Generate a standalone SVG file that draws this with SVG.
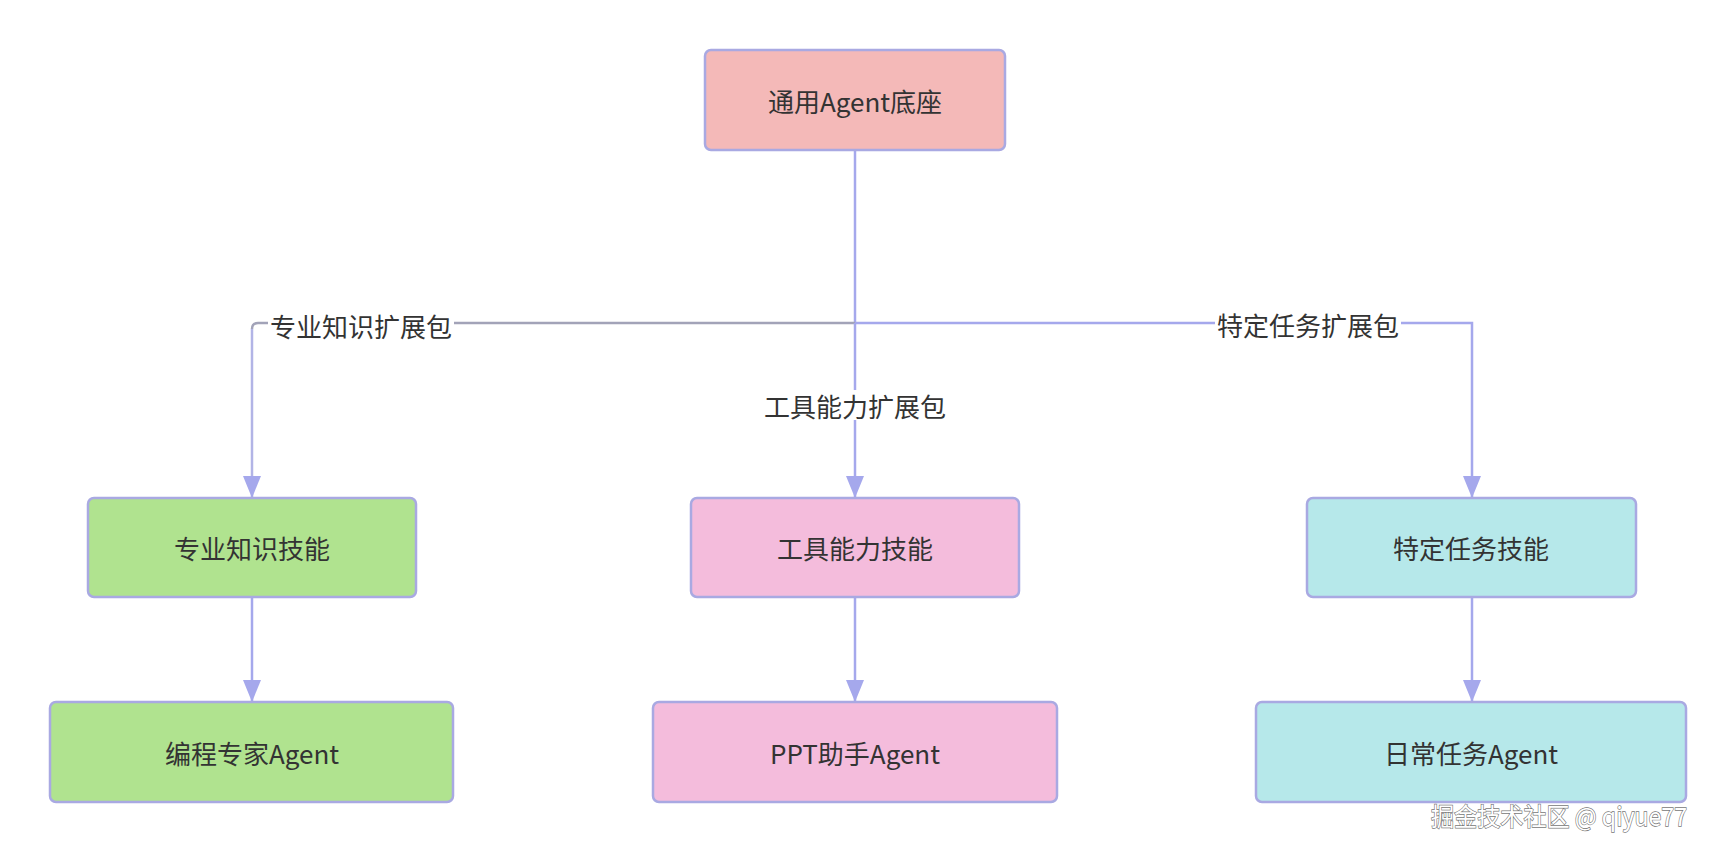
<svg xmlns="http://www.w3.org/2000/svg" width="1736" height="852" viewBox="0 0 1736 852">
<style>
.box{stroke:#a9a9e2;stroke-width:2.5}
.t{font-family:"Noto Sans CJK SC","Noto Sans",sans-serif;font-size:26px;fill:#333;text-anchor:middle;dominant-baseline:central}
.edge{fill:none;stroke:#a5a8ec;stroke-width:2.5}
.lbl{fill:#fff}
</style>
<defs>
<marker id="arr" viewBox="0 0 22 20" refX="22" refY="10" markerWidth="22" markerHeight="20" markerUnits="userSpaceOnUse" orient="auto">
<path d="M0,1 L22,10 L0,19 Z" fill="#a5a8ec"/>
</marker>
</defs>
<rect width="1736" height="852" fill="#fff"/>
<g id="connectors">
<path class="edge" d="M855,150 V323" />
<path class="edge" d="M855,323 H258 Q252,323 252,329" style="stroke:#a2a3b8"/>
<path class="edge" d="M252,329 V498" style="stroke:#b2b4e6" marker-end="url(#arr)"/>
<path class="edge" d="M855,323 V498" marker-end="url(#arr)"/>
<path class="edge" d="M855,323 H1472 V498" marker-end="url(#arr)"/>
<path class="edge" d="M252,597 V702" marker-end="url(#arr)"/>
<path class="edge" d="M855,597 V702" marker-end="url(#arr)"/>
<path class="edge" d="M1472,597 V702" marker-end="url(#arr)"/>
<g id="edge-labels">
<rect class="lbl" x="268" y="310" width="186" height="30"/>
<text class="t" x="361" y="325">专业知识扩展包</text>
<rect class="lbl" x="762" y="390" width="186" height="30"/>
<text class="t" x="855" y="405">工具能力扩展包</text>
<rect class="lbl" x="1215" y="309" width="186" height="30"/>
<text class="t" x="1308" y="324">特定任务扩展包</text>
</g>
</g>
<g id="base">
<rect class="box" x="705" y="50" width="300" height="100" rx="6" fill="#f4b9b8"/>
<text class="t" x="855" y="100">通用Agent底座</text>
</g>
<g id="skill-knowledge">
<rect class="box" x="88" y="498" width="328" height="99" rx="6" fill="#b0e38f"/>
<text class="t" x="252" y="547">专业知识技能</text>
</g>
<g id="skill-tools">
<rect class="box" x="691" y="498" width="328" height="99" rx="6" fill="#f4bcdc"/>
<text class="t" x="855" y="547">工具能力技能</text>
</g>
<g id="skill-task">
<rect class="box" x="1307" y="498" width="329" height="99" rx="6" fill="#b6e8ea"/>
<text class="t" x="1471" y="547">特定任务技能</text>
</g>
<g id="agent-coding">
<rect class="box" x="50" y="702" width="403" height="100" rx="6" fill="#b0e38f"/>
<text class="t" x="252" y="752">编程专家Agent</text>
</g>
<g id="agent-ppt">
<rect class="box" x="653" y="702" width="404" height="100" rx="6" fill="#f4bcdc"/>
<text class="t" x="855" y="752">PPT助手Agent</text>
</g>
<g id="agent-daily">
<rect class="box" x="1256" y="702" width="430" height="100" rx="6" fill="#b6e8ea"/>
<text class="t" x="1471" y="752">日常任务Agent</text>
</g>
<text x="1431" y="815" textLength="256" lengthAdjust="spacingAndGlyphs" style="font-family:'Noto Sans CJK SC','Noto Sans',sans-serif;font-size:25px;fill:#fff;stroke:#777;stroke-width:1.3;paint-order:stroke;dominant-baseline:central">掘金技术社区 @ qiyue77</text>
</svg>
